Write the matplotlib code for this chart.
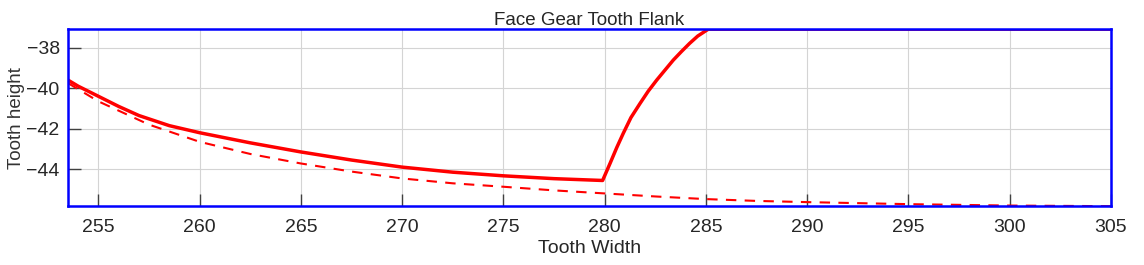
import matplotlib
matplotlib.use('Agg')
import matplotlib.pyplot as plt

plt.rcParams['font.family'] = ['Liberation Sans', 'DejaVu Sans']

# Solid flank profile (tooth width, tooth height)
solid_x = [253.5, 254.0, 255.0, 256.0, 257.0, 258.5, 260.0, 262.5, 265.0, 267.5,
           270.0, 272.5, 275.0, 277.5, 279.9, 280.27, 280.6, 280.92, 281.3, 281.75,
           282.15, 282.57, 283.0, 283.39, 283.8, 284.2, 284.6, 285.12, 290.0, 295.0,
           300.0, 305.0]
solid_y = [-39.6, -39.9, -40.4, -40.9, -41.35, -41.85, -42.2, -42.7, -43.15, -43.55,
           -43.9, -44.15, -44.33, -44.47, -44.56, -43.71, -42.93, -42.23, -41.45, -40.75,
           -40.15, -39.6, -39.08, -38.61, -38.18, -37.78, -37.42, -37.08, -37.08, -37.08,
           -37.08, -37.08]

# Dashed reference profile
dash_x = [253.5, 255.0, 257.5, 260.0, 262.5, 265.0, 267.5, 270.0, 272.5, 275.0,
          277.5, 280.0, 282.5, 285.0, 287.5, 290.0, 295.0, 300.0, 305.0]
dash_y = [-39.75, -40.65, -41.8, -42.65, -43.25, -43.72, -44.12, -44.46, -44.7, -44.87,
          -45.05, -45.2, -45.35, -45.48, -45.57, -45.63, -45.73, -45.8, -45.83]

fig, ax = plt.subplots(figsize=(11.44, 2.65), dpi=100)
fig.subplots_adjust(left=0.0595, right=0.971, top=0.89, bottom=0.222)

ax.plot(solid_x, solid_y, color='red', linewidth=2.5, zorder=3)
ax.plot(dash_x, dash_y, color='red', linewidth=1.5, linestyle=(0, (5, 4)), zorder=3)

ax.set_xlim(253.5, 305)
ax.set_ylim(-45.83, -37.08)
ax.set_xticks(range(255, 306, 5))
ax.set_yticks([-38, -40, -42, -44])

ax.grid(True, color='#d4d4d4', linewidth=0.8)
for sp in ax.spines.values():
    sp.set_color('blue')
    sp.set_linewidth(1.8)
    sp.set_zorder(4)

ax.tick_params(axis='x', direction='in', length=9, width=1, color='#404040',
               labelsize=14, labelcolor='#262626', pad=9)
ax.tick_params(axis='y', direction='in', length=9, width=1, color='#404040',
               labelsize=14, labelcolor='#262626', pad=6)

ax.set_title('Face Gear Tooth Flank', fontsize=13.5, color='#262626', pad=3)
ax.set_xlabel('Tooth Width', fontsize=14, color='#262626', labelpad=3)
ax.set_ylabel('Tooth height', fontsize=13.5, color='#333333', labelpad=1)

plt.savefig('out.png', dpi=100)
